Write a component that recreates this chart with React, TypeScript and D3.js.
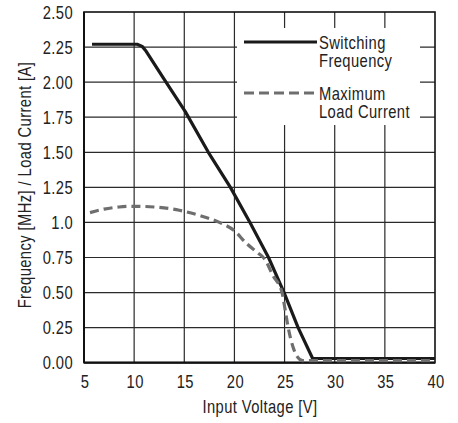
import React from "react";
import * as d3 from "d3";

const xTicks = [5, 10, 15, 20, 25, 30, 35, 40];
const yTickValues = [0, 0.25, 0.5, 0.75, 1.0, 1.25, 1.5, 1.75, 2.0, 2.25, 2.5];
const yTickLabels = ["0.00", "0.25", "0.50", "0.75", "1.0", "1.25", "1.50", "1.75", "2.00", "2.25", "2.50"];

const switchingV = [5.8, 10.3, 10.8, 11.2, 13, 15.1, 17.4, 19.6, 21.55, 23.4, 24.95, 26.35, 27.8, 40];
const switchingF = [2.27, 2.27, 2.255, 2.22, 2.02, 1.79, 1.5, 1.25, 1.0, 0.75, 0.5, 0.25, 0.03, 0.03];

const loadV = [5.6, 7, 8.5, 10, 12, 14.5, 16.5, 18.5, 20, 21.2, 22.3, 23, 23.85, 24.75, 25.05, 25.35, 25.85, 26.3, 26.8, 40];
const loadI = [1.07, 1.095, 1.11, 1.115, 1.11, 1.087, 1.05, 1.0, 0.94, 0.85, 0.785, 0.74, 0.62, 0.5, 0.38, 0.255, 0.11, 0.04, 0.015, 0.015];

const legendLabels = [["Switching", "Frequency"], ["Maximum", "Load Current"]];
const xLabel = "Input Voltage [V]";
const yLabel = "Frequency [MHz] / Load Current [A]";

const W = 458;
const H = 423;
const FONT = "'Liberation Sans', Arial, sans-serif";
const SX = 0.82;

function T(props: { x: number; y: number; anchor?: string; rotate?: number; children: React.ReactNode }) {
  const { x, y, anchor = "start", rotate = 0, children } = props;
  return (
    <text
      transform={`translate(${x},${y}) rotate(${rotate}) scale(${SX},1)`}
      textAnchor={anchor}
      style={{ fontFamily: FONT, fontSize: 18, letterSpacing: "0.5px", fill: "#222" }}
    >
      {children}
    </text>
  );
}

export default function App() {
  const x = d3.scaleLinear().domain([5, 40]).range([84, 435]);
  const y = d3.scaleLinear().domain([0, 2.5]).range([362.7, 12]);

  const solidData = switchingV.map((v, i) => [v, switchingF[i]] as [number, number]);
  const dashData = loadV.map((v, i) => [v, loadI[i]] as [number, number]);

  const solidLine = d3.line<[number, number]>().x(d => x(d[0])).y(d => y(d[1])).curve(d3.curveLinear);
  const dashLine = d3.line<[number, number]>().x(d => x(d[0])).y(d => y(d[1])).curve(d3.curveMonotoneX);

  const legX0 = 237, legX1 = 420, legY0 = 28, legY1 = 125;

  return (
    <svg width={W} height={H} style={{ position: "absolute", left: 0, top: 0, background: "#fff" }}>
      <rect x={0} y={0} width={W} height={H} fill="#fff" />
      {/* grid */}
      {xTicks.slice(1, -1).map(t => (
        <line key={"vx" + t} x1={x(t)} x2={x(t)} y1={y(0)} y2={y(2.5)} stroke="#2a2a2a" strokeWidth={1.2} />
      ))}
      {yTickValues.slice(1, -1).map(t => (
        <line key={"hy" + t} x1={x(5)} x2={x(40)} y1={y(t)} y2={y(t)} stroke="#2a2a2a" strokeWidth={1.2} />
      ))}
      {/* legend background */}
      <rect x={legX0} y={legY0} width={legX1 - legX0} height={legY1 - legY0} fill="#fff" />
      {/* border */}
      <rect x={x(5)} y={y(2.5)} width={x(40) - x(5)} height={y(0) - y(2.5)} fill="none" stroke="#111" strokeWidth={1.6} />
      <line x1={x(5)} x2={x(40)} y1={y(0)} y2={y(0)} stroke="#111" strokeWidth={2.2} />
      <line x1={x(5)} x2={x(5)} y1={y(0)} y2={y(2.5)} stroke="#111" strokeWidth={2} />
      {/* data */}
      <path d={solidLine(solidData) || ""} fill="none" stroke="#1a1a1a" strokeWidth={3.2} strokeLinejoin="round" />
      <path d={dashLine(dashData) || ""} fill="none" stroke="#6e6e6e" strokeWidth={3.2} strokeDasharray="9,5" />
      {/* legend */}
      <line x1={244} x2={317} y1={42} y2={42} stroke="#1a1a1a" strokeWidth={3.2} />
      <line x1={244} x2={317} y1={93} y2={93} stroke="#6e6e6e" strokeWidth={3.2} strokeDasharray="10,5" />
      <T x={319} y={49}>{legendLabels[0][0]}</T>
      <T x={319} y={67}>{legendLabels[0][1]}</T>
      <T x={319} y={100}>{legendLabels[1][0]}</T>
      <T x={319} y={118}>{legendLabels[1][1]}</T>
      {/* y tick labels */}
      {yTickValues.map((t, i) => (
        <T key={"yl" + t} x={73} y={y(t) + 6.5} anchor="end">{yTickLabels[i]}</T>
      ))}
      {/* x tick labels */}
      {xTicks.map(t => (
        <T key={"xl" + t} x={x(t) + 1} y={388} anchor="middle">{String(t)}</T>
      ))}
      <T x={260} y={413} anchor="middle">{xLabel}</T>
      <T x={31} y={185} anchor="middle" rotate={-90}>{yLabel}</T>
    </svg>
  );
}
